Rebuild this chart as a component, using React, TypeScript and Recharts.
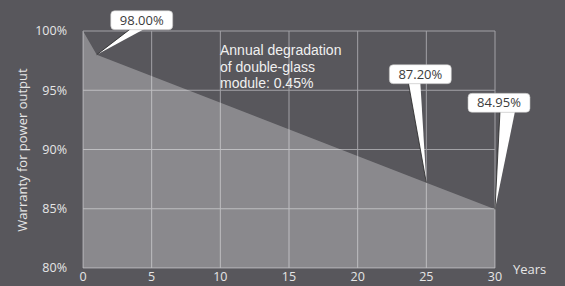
import { AreaChart, Area, XAxis, YAxis, CartesianGrid, ReferenceDot } from 'recharts';

const years = [0, 1, 25, 30];
const warranty = [100, 98, 87.2, 84.95];
const xTicks = [0, 5, 10, 15, 20, 25, 30];
const yTicks = [80, 85, 90, 95, 100];
const calloutYears = [1, 25, 30];
const calloutValues = [98, 87.2, 84.95];
const calloutLabels = ['98.00%', '87.20%', '84.95%'];

const data = years.map((year, i) => ({ year, value: warranty[i] }));

// box placement relative to the pointed-at point
const calloutLayout = [
  { bx: 14, by: -44, baseL: 20, baseR: 34 },
  { bx: -37, by: -118, baseL: 19, baseR: 31 },
  { bx: -27, by: -116, baseL: 32, baseR: 47 },
];

const BOX_W = 62;
const BOX_H = 19;

function Callout({ cx, cy, label, layout }: any) {
  const { bx, by, baseL, baseR } = layout;
  const x0 = cx + bx;
  const y0 = cy + by;
  const yb = y0 + BOX_H - 1;
  return (
    <g>
      <polygon points={`${x0 + baseL},${yb} ${x0 + baseR},${yb} ${cx},${cy}`} fill="#ffffff" />
      <line x1={x0 + baseL} y1={yb} x2={cx} y2={cy} stroke="#222" strokeWidth={0.8} />
      <rect x={x0} y={y0} width={BOX_W} height={BOX_H} rx={4} fill="#ffffff" stroke="#bbb" strokeWidth={0.6} />
      <text
        x={x0 + BOX_W / 2}
        y={y0 + 14}
        textAnchor="middle"
        fontSize={13}
        fill="#3c3c3c"
        fontFamily="'Open Sans', sans-serif"
      >
        {label}
      </text>
    </g>
  );
}

export default function App() {
  return (
    <div style={{ position: 'fixed', left: 0, top: 0, width: 565, height: 286, background: '#58575c', overflow: 'hidden' }}>
      <AreaChart width={565} height={286} data={data} margin={{ top: 31, right: 70, left: 31, bottom: 0 }}>
        <CartesianGrid stroke="#a2a2a6" strokeWidth={1} />
        <XAxis
          dataKey="year"
          type="number"
          domain={[0, 30]}
          ticks={xTicks}
          axisLine={false}
          tickLine={false}
          tickSize={0}
          height={18}
          tickMargin={4}
          tick={{ fill: '#e6e6e6', fontSize: 12.5, fontFamily: "'Open Sans', sans-serif" }}
        />
        <YAxis
          type="number"
          domain={[80, 100]}
          ticks={yTicks}
          axisLine={false}
          tickLine={false}
          width={52}
          tickMargin={10}
          tickFormatter={(v: number) => `${v}%`}
          tick={{ fill: '#e6e6e6', fontSize: 12.5, fontFamily: "'Open Sans', sans-serif" }}
        />
        <Area
          type="linear"
          dataKey="value"
          stroke="none"
          fill="#ffffff"
          fillOpacity={0.3}
          baseValue={80}
          isAnimationActive={false}
        />
        {calloutYears.map((yr, i) => (
          <ReferenceDot
            key={yr}
            x={yr}
            y={calloutValues[i]}
            ifOverflow="visible"
            shape={(p: any) => <Callout cx={p.cx} cy={p.cy} label={calloutLabels[i]} layout={calloutLayout[i]} />}
          />
        ))}
        <text fill="#f0f0f0" fontSize={14} fontFamily="'Liberation Sans', Arial, sans-serif">
          <tspan x={220} y={55}>Annual degradation</tspan>
          <tspan x={220} y={72}>of double-glass</tspan>
          <tspan x={220} y={88}>module: 0.45%</tspan>
        </text>
        <text
          x={0}
          y={0}
          transform="translate(27,150) rotate(-90)"
          textAnchor="middle"
          fill="#e6e6e6"
          fontSize={13}
          fontFamily="'Open Sans', sans-serif"
        >
          Warranty for power output
        </text>
        <text x={513} y={274} fill="#e6e6e6" fontSize={13} fontFamily="'Open Sans', sans-serif">
          Years
        </text>
      </AreaChart>
    </div>
  );
}
